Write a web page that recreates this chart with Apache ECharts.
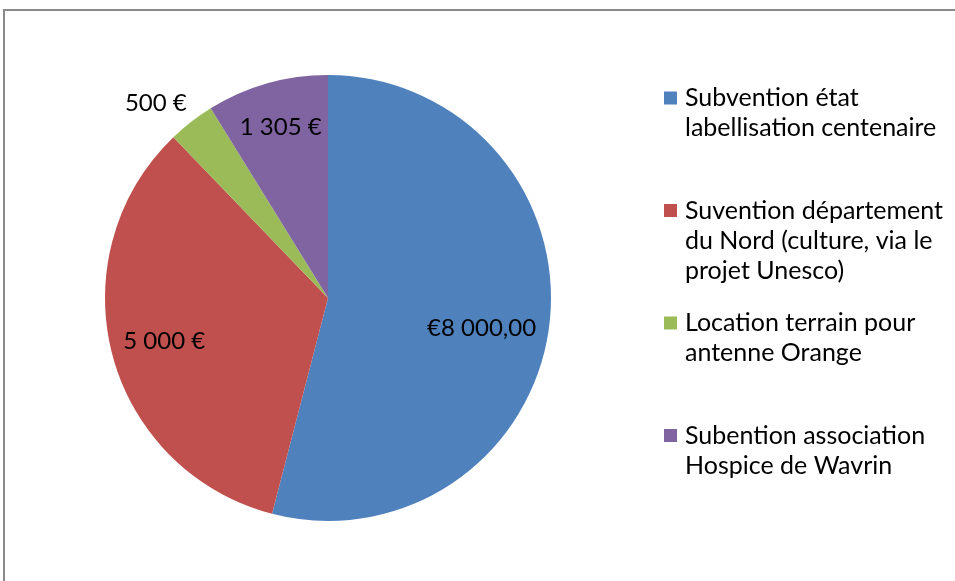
<!DOCTYPE html>
<html>
<head>
<meta charset="utf-8">
<script src="https://cdn.jsdelivr.net/npm/echarts@6/dist/echarts.min.js"></script>
<style>html,body{margin:0;padding:0;background:#fff}#c{width:955px;height:581px}</style>
</head>
<body>
<div id="c"></div>
<script>
// ---- data ----
const categories = [
  'Subvention état\nlabellisation centenaire',
  'Suvention département\ndu Nord (culture, via le\nprojet Unesco)',
  'Location terrain pour\nantenne Orange',
  'Subention association\nHospice de Wavrin'
];
const values = [8000, 5000, 500, 1305];
const valueLabels = ['€8 000,00', '5 000 €', '500 €', '1 305 €'];

// ---- styling ----
const colors = ['#4F81BD', '#C0504D', '#9BBB59', '#8064A2'];
const labelOffsets = [[40, 16], [-53, 14], [-102, -104], [-16, -61]];
const legendIconCenters = [98, 210.5, 323, 435.5];
const FONT = 'Lato';
const FS_LABEL = 24;
const FS_LEGEND = 25;
const LH = 30;

const chart = echarts.init(document.getElementById('c'), null, {renderer: 'canvas'});

const legends = categories.map((name, i) => {
  const n = name.split('\n').length;
  return {
    orient: 'vertical',
    left: 664,
    top: legendIconCenters[i] - (2 * n - 1) * LH / 2,
    padding: 0,
    itemWidth: 13,
    itemHeight: 13,
    icon: 'rect',
    selectedMode: false,
    data: [name],
    formatter: nm => '\n'.repeat(nm.split('\n').length - 1) + nm,
    textStyle: {fontFamily: FONT, fontSize: FS_LEGEND, lineHeight: LH, color: '#000', padding: [0, 0, 0, 3]}
  };
});

chart.setOption({
  animation: false,
  backgroundColor: '#fff',
  color: colors,
  graphic: [{
    type: 'rect',
    shape: {x: 4, y: 10, width: 1200, height: 1200},
    style: {fill: 'none', stroke: '#8a8a8a', lineWidth: 2},
    silent: true,
    z: 100
  }],
  legend: legends,
  series: [{
    type: 'pie',
    center: [328, 298],
    radius: [0, 223],
    startAngle: 90,
    clockwise: true,
    avoidLabelOverlap: false,
    itemStyle: {borderWidth: 0},
    label: {
      show: true,
      position: 'inside',
      fontFamily: FONT,
      fontSize: FS_LABEL,
      color: '#000',
      formatter: p => valueLabels[p.dataIndex]
    },
    labelLine: {show: false},
    emphasis: {disabled: true},
    data: categories.map((name, i) => ({
      name: name,
      value: values[i],
      label: {offset: labelOffsets[i]}
    }))
  }]
});
</script>
</body>
</html>
